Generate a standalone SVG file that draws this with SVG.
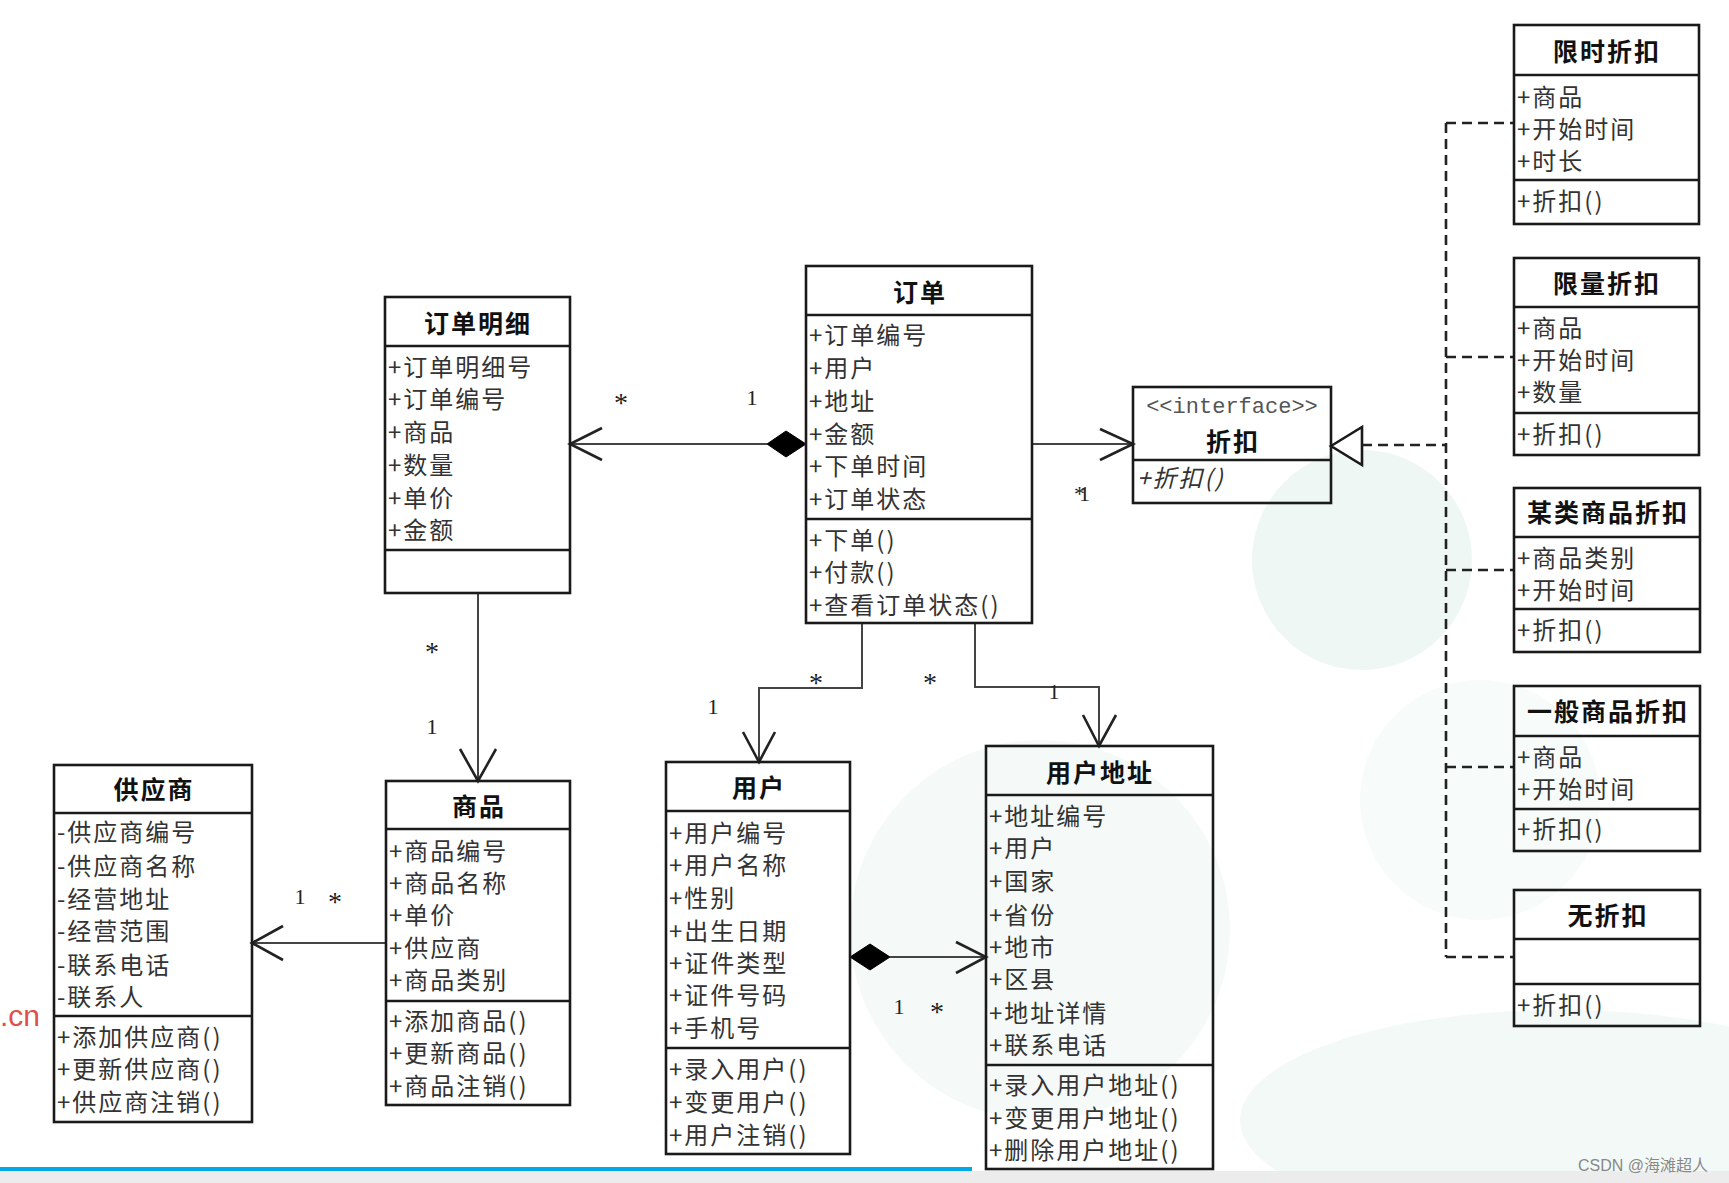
<svg xmlns="http://www.w3.org/2000/svg" width="1729" height="1183" viewBox="0 0 1729 1183">
<style>
.bg{fill:#ffffff}
.blob{fill:#eff7f5}
.box{fill:none;stroke:#1a1a1a;stroke-width:2.6}
.sep{stroke:#1a1a1a;stroke-width:2.6}
.t{font-family:"Noto Sans CJK SC","Noto Sans",sans-serif;font-size:24px;letter-spacing:2px;fill:#333;dominant-baseline:central}
.h{font-family:"Noto Sans CJK SC","Noto Sans",sans-serif;font-size:25px;letter-spacing:2px;font-weight:bold;fill:#111;text-anchor:middle;dominant-baseline:central}
.c{fill:none;stroke:#444;stroke-width:2}
.ah{fill:none;stroke:#222;stroke-width:2.6}
.dm{fill:#000;stroke:#000;stroke-width:1}
.dash{fill:none;stroke:#222;stroke-width:2.6;stroke-dasharray:10 6}
.lab{font-family:"Liberation Serif",serif;font-size:22px;fill:#222;text-anchor:middle;dominant-baseline:central}
.st{font-family:"Liberation Serif",serif;font-size:28px;fill:#222;text-anchor:middle;dominant-baseline:central}
</style>
<rect class="bg" x="0" y="0" width="1729" height="1183"/>
<g id="background">
<circle class="blob" cx="1362" cy="560" r="110"/>
<circle class="blob" cx="1040" cy="930" r="190" opacity="0.6"/>
<ellipse class="blob" cx="1560" cy="1120" rx="320" ry="110" opacity="0.8"/>
<circle class="blob" cx="1480" cy="800" r="120" opacity="0.5"/>
<rect x="0" y="1171" width="1729" height="12" fill="#ececec"/>
<rect x="0" y="1167" width="972" height="4" fill="#00a8e8"/>
</g>

<g id="connectors">
<!-- 订单 -> 订单明细 composition -->
<line class="c" x1="570" y1="444" x2="767" y2="444"/>
<polyline class="ah" points="602,428 570,444 602,460"/>
<polygon class="dm" points="767,444 786,431 806,444 786,457"/>
<text class="st" x="621" y="402">*</text>
<text class="lab" x="752" y="397">1</text>
<!-- 订单明细 -> 商品 -->
<line class="c" x1="478" y1="593" x2="478" y2="781"/>
<polyline class="ah" points="460,749 478,781 496,749"/>
<text class="st" x="432" y="651">*</text>
<text class="lab" x="432" y="726">1</text>
<!-- 商品 -> 供应商 -->
<line class="c" x1="386" y1="943" x2="252" y2="943"/>
<polyline class="ah" points="283,926 252,943 283,960"/>
<text class="lab" x="300" y="896">1</text>
<text class="st" x="335" y="901">*</text>
<!-- 订单 -> 用户 -->
<polyline class="c" points="862,623 862,688 759,688 759,762"/>
<polyline class="ah" points="743,732 759,762 775,732"/>
<text class="st" x="816" y="682">*</text>
<text class="lab" x="713" y="706">1</text>
<!-- 订单 -> 用户地址 -->
<polyline class="c" points="975,623 975,687 1099,687 1099,746"/>
<polyline class="ah" points="1083,715 1099,746 1116,715"/>
<text class="st" x="930" y="682">*</text>
<text class="lab" x="1054" y="691">1</text>
<!-- 用户 -> 用户地址 composition -->
<line class="c" x1="890" y1="957" x2="986" y2="957"/>
<polyline class="ah" points="956,942 986,957 956,973"/>
<polygon class="dm" points="850,957 870,944 890,957 870,970"/>
<text class="lab" x="899" y="1006">1</text>
<text class="st" x="937" y="1011">*</text>
<!-- 订单 -> 折扣 -->
<line class="c" x1="1032" y1="444" x2="1133" y2="444"/>
<polyline class="ah" points="1100,429 1133,444 1100,460"/>
<text class="lab" x="1079" y="493" letter-spacing="-6">*1</text>
<!-- realization -->
<polygon points="1331,446 1362,427 1362,465" fill="#fff" stroke="#1a1a1a" stroke-width="2.6"/>
<line class="dash" x1="1362" y1="445" x2="1446" y2="445"/>
<line class="dash" x1="1446" y1="123" x2="1446" y2="957"/>
<line class="dash" x1="1446" y1="123" x2="1514" y2="123"/>
<line class="dash" x1="1446" y1="357" x2="1514" y2="357"/>
<line class="dash" x1="1446" y1="570" x2="1514" y2="570"/>
<line class="dash" x1="1446" y1="767" x2="1514" y2="767"/>
<line class="dash" x1="1446" y1="957" x2="1514" y2="957"/>
</g>

<g id="node-dingdanmingxi">
<rect class="box" x="385" y="297" width="185" height="296"/>
<line class="sep" x1="385" y1="346" x2="570" y2="346"/>
<line class="sep" x1="385" y1="550" x2="570" y2="550"/>
<text class="h" x="478" y="322">订单明细</text>
<text class="t" x="388" y="365">+订单明细号</text>
<text class="t" x="388" y="397">+订单编号</text>
<text class="t" x="388" y="430">+商品</text>
<text class="t" x="388" y="463">+数量</text>
<text class="t" x="388" y="496">+单价</text>
<text class="t" x="388" y="528">+金额</text>
</g>

<g id="node-dingdan">
<rect class="box" x="806" y="266" width="226" height="357"/>
<line class="sep" x1="806" y1="315" x2="1032" y2="315"/>
<line class="sep" x1="806" y1="519" x2="1032" y2="519"/>
<text class="h" x="920" y="291">订单</text>
<text class="t" x="809" y="333">+订单编号</text>
<text class="t" x="809" y="366">+用户</text>
<text class="t" x="809" y="399">+地址</text>
<text class="t" x="809" y="432">+金额</text>
<text class="t" x="809" y="464">+下单时间</text>
<text class="t" x="809" y="497">+订单状态</text>
<text class="t" x="809" y="538">+下单()</text>
<text class="t" x="809" y="570">+付款()</text>
<text class="t" x="809" y="603">+查看订单状态()</text>
</g>

<g id="node-shangpin">
<rect class="box" x="386" y="781" width="184" height="324"/>
<line class="sep" x1="386" y1="829" x2="570" y2="829"/>
<line class="sep" x1="386" y1="1001" x2="570" y2="1001"/>
<text class="h" x="479" y="805">商品</text>
<text class="t" x="389" y="849">+商品编号</text>
<text class="t" x="389" y="881">+商品名称</text>
<text class="t" x="389" y="913">+单价</text>
<text class="t" x="389" y="946">+供应商</text>
<text class="t" x="389" y="978">+商品类别</text>
<text class="t" x="389" y="1019">+添加商品()</text>
<text class="t" x="389" y="1051">+更新商品()</text>
<text class="t" x="389" y="1084">+商品注销()</text>
</g>

<g id="node-gongyingshang">
<rect class="box" x="54" y="765" width="198" height="357"/>
<line class="sep" x1="54" y1="813" x2="252" y2="813"/>
<line class="sep" x1="54" y1="1016" x2="252" y2="1016"/>
<text class="h" x="154" y="788">供应商</text>
<text class="t" x="57" y="830">-供应商编号</text>
<text class="t" x="57" y="864">-供应商名称</text>
<text class="t" x="57" y="897">-经营地址</text>
<text class="t" x="57" y="929">-经营范围</text>
<text class="t" x="57" y="963">-联系电话</text>
<text class="t" x="57" y="995">-联系人</text>
<text class="t" x="57" y="1035">+添加供应商()</text>
<text class="t" x="57" y="1067">+更新供应商()</text>
<text class="t" x="57" y="1100">+供应商注销()</text>
</g>

<g id="node-yonghu">
<rect class="box" x="666" y="762" width="184" height="392"/>
<line class="sep" x1="666" y1="811" x2="850" y2="811"/>
<line class="sep" x1="666" y1="1048" x2="850" y2="1048"/>
<text class="h" x="759" y="786">用户</text>
<text class="t" x="669" y="831">+用户编号</text>
<text class="t" x="669" y="863">+用户名称</text>
<text class="t" x="669" y="896">+性别</text>
<text class="t" x="669" y="929">+出生日期</text>
<text class="t" x="669" y="961">+证件类型</text>
<text class="t" x="669" y="993">+证件号码</text>
<text class="t" x="669" y="1026">+手机号</text>
<text class="t" x="669" y="1067">+录入用户()</text>
<text class="t" x="669" y="1100">+变更用户()</text>
<text class="t" x="669" y="1133">+用户注销()</text>
</g>

<g id="node-yonghudizhi">
<rect class="box" x="986" y="746" width="227" height="423"/>
<line class="sep" x1="986" y1="795" x2="1213" y2="795"/>
<line class="sep" x1="986" y1="1065" x2="1213" y2="1065"/>
<text class="h" x="1100" y="771">用户地址</text>
<text class="t" x="989" y="814">+地址编号</text>
<text class="t" x="989" y="846">+用户</text>
<text class="t" x="989" y="879">+国家</text>
<text class="t" x="989" y="913">+省份</text>
<text class="t" x="989" y="945">+地市</text>
<text class="t" x="989" y="977">+区县</text>
<text class="t" x="989" y="1011">+地址详情</text>
<text class="t" x="989" y="1043">+联系电话</text>
<text class="t" x="989" y="1083">+录入用户地址()</text>
<text class="t" x="989" y="1116">+变更用户地址()</text>
<text class="t" x="989" y="1148">+删除用户地址()</text>
</g>

<g id="node-zhekou-interface">
<rect class="box" x="1133" y="387" width="198" height="116"/>
<line class="sep" x1="1133" y1="460" x2="1331" y2="460"/>
<text x="1232" y="407" font-family="Liberation Mono, monospace" font-size="22" fill="#555" text-anchor="middle" dominant-baseline="central">&lt;&lt;interface&gt;&gt;</text>
<text class="h" x="1233" y="440">折扣</text>
<text class="t" x="1137" y="476" font-style="italic">+折扣()</text>
</g>

<g id="node-xianshi">
<rect class="box" x="1514" y="25" width="185" height="199"/>
<line class="sep" x1="1514" y1="75" x2="1699" y2="75"/>
<line class="sep" x1="1514" y1="180" x2="1699" y2="180"/>
<text class="h" x="1607" y="50">限时折扣</text>
<text class="t" x="1517" y="95">+商品</text>
<text class="t" x="1517" y="127">+开始时间</text>
<text class="t" x="1517" y="159">+时长</text>
<text class="t" x="1517" y="199">+折扣()</text>
</g>

<g id="node-xianliang">
<rect class="box" x="1514" y="258" width="185" height="197"/>
<line class="sep" x1="1514" y1="307" x2="1699" y2="307"/>
<line class="sep" x1="1514" y1="413" x2="1699" y2="413"/>
<text class="h" x="1607" y="282">限量折扣</text>
<text class="t" x="1517" y="326">+商品</text>
<text class="t" x="1517" y="358">+开始时间</text>
<text class="t" x="1517" y="390">+数量</text>
<text class="t" x="1517" y="432">+折扣()</text>
</g>

<g id="node-moulei">
<rect class="box" x="1514" y="488" width="186" height="164"/>
<line class="sep" x1="1514" y1="537" x2="1700" y2="537"/>
<line class="sep" x1="1514" y1="609" x2="1700" y2="609"/>
<text class="h" x="1608" y="511">某类商品折扣</text>
<text class="t" x="1517" y="556">+商品类别</text>
<text class="t" x="1517" y="588">+开始时间</text>
<text class="t" x="1517" y="628">+折扣()</text>
</g>

<g id="node-yiban">
<rect class="box" x="1514" y="686" width="186" height="165"/>
<line class="sep" x1="1514" y1="736" x2="1700" y2="736"/>
<line class="sep" x1="1514" y1="809" x2="1700" y2="809"/>
<text class="h" x="1608" y="710">一般商品折扣</text>
<text class="t" x="1517" y="755">+商品</text>
<text class="t" x="1517" y="787">+开始时间</text>
<text class="t" x="1517" y="827">+折扣()</text>
</g>

<g id="node-wuzhekou">
<rect class="box" x="1514" y="890" width="186" height="136"/>
<line class="sep" x1="1514" y1="939" x2="1700" y2="939"/>
<line class="sep" x1="1514" y1="984" x2="1700" y2="984"/>
<text class="h" x="1608" y="914">无折扣</text>
<text class="t" x="1517" y="1003">+折扣()</text>
</g>

<g id="overlay">
<text x="0" y="1026" font-family="Liberation Sans, sans-serif" font-size="30" fill="#e0504a">.cn</text>
<text x="1578" y="1171" font-family="Liberation Sans, Noto Sans CJK SC, sans-serif" font-size="16" fill="#888">CSDN @海滩超人</text>
</g>
</svg>
